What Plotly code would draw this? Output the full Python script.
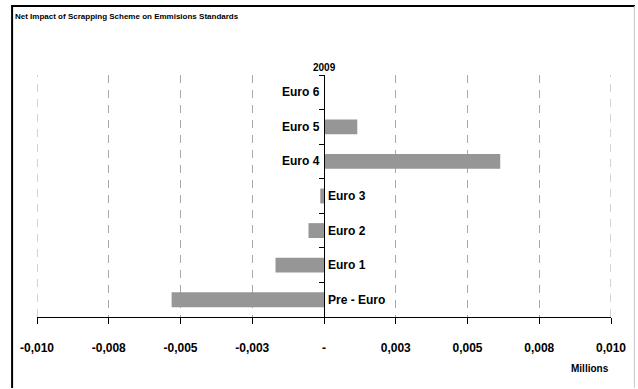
import plotly.graph_objects as go

categories = ["Pre - Euro", "Euro 1", "Euro 2", "Euro 3", "Euro 4", "Euro 5", "Euro 6"]
values = [-0.00531, -0.00169, -0.00054, -0.00013, 0.00614, 0.00116, 0.0]
tick_vals = [-0.01, -0.0075, -0.005, -0.0025, 0.0, 0.0025, 0.005, 0.0075, 0.01]
tick_text = ["-0,010", "-0,008", "-0,005", "-0,003", "-", "0,003", "0,005", "0,008", "0,010"]
series_name = "2009"
title_text = "Net Impact of Scrapping Scheme on Emmisions Standards"
unit_text = "Millions"

FONT = "Liberation Sans, Arial, sans-serif"
W, H = 638, 389
ml, mr, mt, mb = 37, 25, 75, 72
pw, ph = W - ml - mr, H - mt - mb
GRID_COLOR = "#a8a8a8"
GRID_DASH = "8px,7px"

def px2paper_x(px):
    return (px - ml) / pw

def py2paper_y(py):
    return (H - mb - py) / ph

fig = go.Figure()
fig.add_trace(go.Bar(
    x=values, y=categories, orientation="h",
    marker=dict(color="#969696", line=dict(width=0)),
    name=series_name, showlegend=False, hoverinfo="x+y",
))

annotations = []
for c, v in zip(categories, values):
    if v < 0:
        annotations.append(dict(x=0, y=c, xref="x", yref="y", text="<b>%s</b>" % c,
                                showarrow=False, xanchor="left", xshift=2,
                                font=dict(family=FONT, size=12, color="black")))
    else:
        annotations.append(dict(x=0, y=c, xref="x", yref="y", text="<b>%s</b>" % c,
                                showarrow=False, xanchor="right", xshift=-2,
                                font=dict(family=FONT, size=12, color="black")))

annotations.append(dict(x=0, y=py2paper_y(67), xref="x", yref="paper", text="<b>%s</b>" % series_name,
                        showarrow=False, xanchor="center", yanchor="middle",
                        font=dict(family=FONT, size=10, color="black")))
annotations.append(dict(x=1, y=py2paper_y(368), xref="paper", yref="paper", text="<b>%s</b>" % unit_text,
                        showarrow=False, xanchor="right", yanchor="middle",
                        font=dict(family=FONT, size=10, color="black")))
annotations.append(dict(x=px2paper_x(13), y=py2paper_y(16), xref="paper", yref="paper",
                        text="<b>%s</b>" % title_text,
                        showarrow=False, xanchor="left", yanchor="middle",
                        font=dict(family=FONT, size=8, color="black")))

shapes = [
    # chart frame: left (black), top (black), right (light gray)
    dict(type="line", xref="paper", yref="paper", x0=px2paper_x(12), x1=px2paper_x(12),
         y0=py2paper_y(388), y1=py2paper_y(5), line=dict(color="black", width=2), layer="above"),
    dict(type="line", xref="paper", yref="paper", x0=px2paper_x(11), x1=px2paper_x(637),
         y0=py2paper_y(6), y1=py2paper_y(6), line=dict(color="black", width=2), layer="above"),
    dict(type="line", xref="paper", yref="paper", x0=px2paper_x(636.5), x1=px2paper_x(636.5),
         y0=py2paper_y(6), y1=py2paper_y(388), line=dict(color="#c8c8c8", width=1), layer="above"),
]
# gridlines at the range ends (plotly drops them at the plot edges)
for tv in (tick_vals[0], tick_vals[-1]):
    shapes.append(dict(type="line", xref="x", yref="paper", x0=tv, x1=tv, y0=0, y1=1,
                       line=dict(color=GRID_COLOR, width=1, dash=GRID_DASH), layer="below"))

fig.update_layout(
    width=W, height=H,
    margin=dict(l=ml, r=mr, t=mt, b=mb, pad=0),
    paper_bgcolor="white", plot_bgcolor="white",
    bargap=0.57,
    annotations=annotations,
    shapes=shapes,
    font=dict(family=FONT, size=12, color="black"),
    xaxis=dict(
        range=[tick_vals[0], tick_vals[-1]], tickvals=tick_vals, ticktext=tick_text,
        showgrid=True, gridcolor=GRID_COLOR, gridwidth=1, griddash=GRID_DASH,
        zeroline=False, showline=True, linecolor="black", linewidth=1,
        ticks="outside", ticklen=6, tickcolor="black", tickwidth=1,
        tickfont=dict(family=FONT, size=12, color="black", weight="bold"),
        ticklabelstandoff=14,
    ),
    yaxis=dict(
        type="category", anchor="free", position=0.5,
        showline=True, linecolor="black", linewidth=1,
        ticks="outside", tickson="boundaries", ticklen=5, tickcolor="black",
        showticklabels=False, showgrid=False, zeroline=False,
    ),
)

fig.write_html("out.html")
